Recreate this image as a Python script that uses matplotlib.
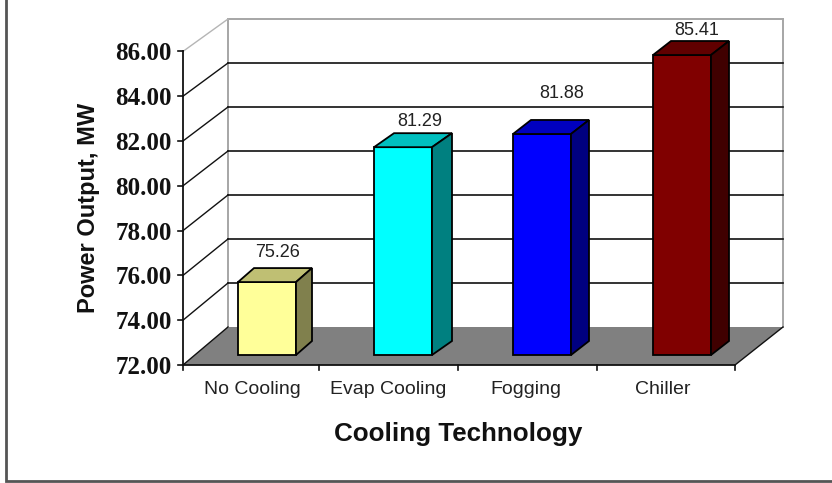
"""Power output by cooling technology, drawn as a faux-3D column chart."""

from matplotlib.patches import Polygon
import matplotlib

matplotlib.use("Agg")
import matplotlib.pyplot as plt

categories = ["No Cooling", "Evap Cooling", "Fogging", "Chiller"]
power_mw = [75.26, 81.29, 81.88, 85.41]
value_labels = ["75.26", "81.29", "81.88", "85.41"]
y_ticks = [72, 74, 76, 78, 80, 82, 84, 86]

# layout in image pixels, y pointing down
W, H = 832, 483
FRONT_L, FRONT_R, BACK_L, BACK_R = 183, 735, 228, 783
BASE_V = 72
BAR_LEFT = [238, 374, 513, 653]
BAR_W = 58
BAR_DX = [16, 20, 18, 18]
BAR_DY = 14
BAR_BASE = 355
CAT_X = [252, 388, 526, 663]
TICK_X = [183, 319, 458, 597, 735]
LABEL_X = [278, 420, 562, 697]
LABEL_GAP = [18, 14, 28, 13]  # label centre above the bar's back top edge

FACE = ["#ffff99", "#00ffff", "#0000ff", "#800000"]
TOP = ["#bfbf73", "#00bfbf", "#0000bf", "#600000"]
SIDE = ["#80804d", "#008080", "#000080", "#400000"]
WALL, FLOOR, INK = "#a6a6a6", "#808080", "#111111"
SANS, SERIF = "Liberation Sans", "Liberation Serif"


def y_front(v):
    return 365 - (v - BASE_V) * 22.4


def y_back(v):
    return 327 - (v - BASE_V) * 22.0


def y_bar(v):
    return BAR_BASE - (v - BASE_V) * 22.37


fig = plt.figure(figsize=(W / 100, H / 100), dpi=100, facecolor="white")
ax = fig.add_axes([0, 0, 1, 1])
ax.set_xlim(0, W)
ax.set_ylim(H, 0)
ax.axis("off")

# outer frame: only left and bottom edges fall inside the picture
ax.plot([6, 6, W], [0, 481, 481], color="#555555", lw=2, solid_joinstyle="miter")

# floor
ax.add_patch(Polygon([(FRONT_L, y_front(72)), (FRONT_R, y_front(72)),
                      (BACK_R, y_back(72)), (BACK_L, y_back(72))],
                     closed=True, facecolor=FLOOR, edgecolor="none", zorder=1))

# walls and gridlines
top = y_back(86)
ax.plot([BACK_L, BACK_L], [top, y_back(72)], color=WALL, lw=1.4, zorder=2)
ax.plot([BACK_R, BACK_R], [top, y_back(72)], color=WALL, lw=1.4, zorder=2)
ax.plot([BACK_L, BACK_R], [top, top], color=WALL, lw=1.4, zorder=2)
for v in y_ticks:
    shade = "#b5b5b5" if v == 86 else INK
    ax.plot([FRONT_L, BACK_L], [y_front(v), y_back(v)], color=shade, lw=1.0, zorder=2)
    if 72 < v < 86:
        ax.plot([BACK_L, BACK_R], [y_back(v), y_back(v)], color=INK, lw=1.2, zorder=2)
    ax.plot([178, FRONT_L], [y_front(v), y_front(v)], color=INK, lw=1.2, zorder=4)
    ax.text(172, y_front(v), f"{v:.2f}", ha="right", va="center_baseline",
            fontsize=18, family=SERIF, fontweight="bold", color=INK)
ax.plot([FRONT_R, BACK_R], [y_front(72), y_back(72)], color=INK, lw=1.0, zorder=2)

# axis lines and ticks
ax.plot([FRONT_L, FRONT_L], [y_front(86), y_front(72)], color=INK, lw=1.3, zorder=4)
ax.plot([FRONT_L, FRONT_R], [y_front(72), y_front(72)], color=INK, lw=1.3, zorder=4)
for x in TICK_X:
    ax.plot([x, x], [y_front(72), y_front(72) + 5], color=INK, lw=1.2, zorder=4)

# columns
for i, v in enumerate(power_mw):
    x0, x1 = BAR_LEFT[i], BAR_LEFT[i] + BAR_W
    dx = BAR_DX[i]
    yt = y_bar(v)
    ax.add_patch(Polygon([(x0, BAR_BASE), (x1, BAR_BASE), (x1, yt), (x0, yt)],
                         closed=True, facecolor=FACE[i], edgecolor="black", lw=1.3, zorder=5))
    ax.add_patch(Polygon([(x0, yt), (x1, yt), (x1 + dx, yt - BAR_DY), (x0 + dx, yt - BAR_DY)],
                         closed=True, facecolor=TOP[i], edgecolor="black", lw=1.3, zorder=5))
    ax.add_patch(Polygon([(x1, BAR_BASE), (x1, yt), (x1 + dx, yt - BAR_DY),
                          (x1 + dx, BAR_BASE - BAR_DY)],
                         closed=True, facecolor=SIDE[i], edgecolor="black", lw=1.3, zorder=5))
    ax.text(LABEL_X[i], yt - BAR_DY - LABEL_GAP[i], value_labels[i], ha="center",
            va="center_baseline", fontsize=13, family=SANS, color="#222222", zorder=6)
    ax.text(CAT_X[i], 387, categories[i], ha="center", va="center_baseline",
            fontsize=14, family=SANS, color="#222222")

ax.text(458, 431, "Cooling Technology", ha="center", va="center_baseline",
        fontsize=18.7, family=SANS, fontweight="bold", color=INK)
ax.text(88, 208, "Power Output, MW", ha="center", va="center", rotation=90,
        fontsize=17, family=SANS, fontweight="bold", color=INK)

fig.savefig("out.png", dpi=100, facecolor="white")
plt.close(fig)
